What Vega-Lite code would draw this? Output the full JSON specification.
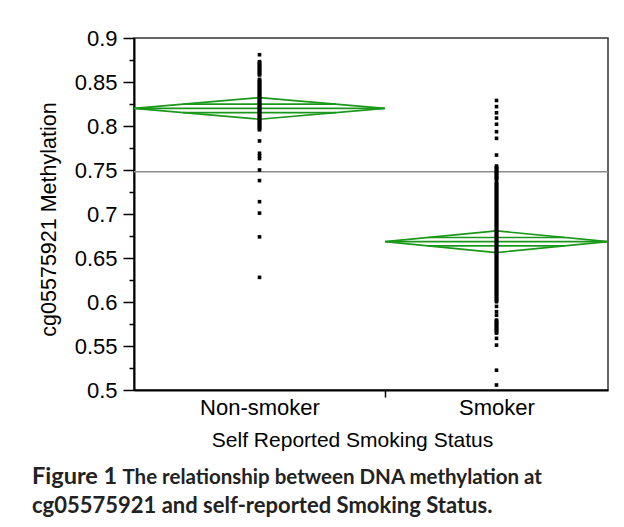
{
  "$schema": "https://vega.github.io/schema/vega-lite/v6.json",
  "width": 474,
  "height": 352,
  "autosize": {"type": "none"},
  "padding": {"left": 134, "top": 38, "right": 16, "bottom": 137},
  "background": "white",
  "title": {
    "text": "Figure 1",
    "subtitle": "cg05575921 and self-reported Smoking Status.",
    "orient": "bottom",
    "anchor": "start",
    "frame": "group",
    "dx": -102,
    "offset": -23,
    "font": "Lato",
    "fontSize": 23.5,
    "fontWeight": "bold",
    "color": "#222222",
    "subtitleFont": "Lato",
    "subtitleFontSize": 22,
    "subtitleFontWeight": "bold",
    "subtitleColor": "#222222",
    "subtitlePadding": 8
  },
  "datasets": {
    "groups": [
      {"g": "N", "name": "Non-smoker", "lo": 0, "hi": 0.5295, "mid": 0.2648, "mean": 0.82, "ci": 0.0123},
      {"g": "S", "name": "Smoker", "lo": 0.5295, "hi": 1, "mid": 0.7648, "mean": 0.6685, "ci": 0.0123}
    ],
    "diamond": [
      {"g": "N", "k": 1, "x": 0, "v": 0.82},
      {"g": "N", "k": 2, "x": 0.2648, "v": 0.8323},
      {"g": "N", "k": 3, "x": 0.5295, "v": 0.82},
      {"g": "N", "k": 4, "x": 0.2648, "v": 0.8077},
      {"g": "N", "k": 5, "x": 0, "v": 0.82},
      {"g": "S", "k": 1, "x": 0.5295, "v": 0.6685},
      {"g": "S", "k": 2, "x": 0.7648, "v": 0.6808},
      {"g": "S", "k": 3, "x": 1, "v": 0.6685},
      {"g": "S", "k": 4, "x": 0.7648, "v": 0.6562},
      {"g": "S", "k": 5, "x": 0.5295, "v": 0.6685}
    ],
    "hl": [
      {"g": "N", "x1": 0, "x2": 0.5295, "v": 0.82},
      {"g": "N", "x1": 0.1033, "x2": 0.4263, "v": 0.8248},
      {"g": "N", "x1": 0.1033, "x2": 0.4263, "v": 0.8152},
      {"g": "S", "x1": 0.5295, "x2": 1, "v": 0.6685},
      {"g": "S", "x1": 0.6213, "x2": 0.9083, "v": 0.6733},
      {"g": "S", "x1": 0.6213, "x2": 0.9083, "v": 0.6637}
    ],
    "pts": [
      {"g": "N", "v": 0.881}, {"g": "N", "v": 0.8731}, {"g": "N", "v": 0.8718}, {"g": "N", "v": 0.8702}, {"g": "N", "v": 0.8689}, {"g": "N", "v": 0.8676}, {"g": "N", "v": 0.866}, {"g": "N", "v": 0.8647}, {"g": "N", "v": 0.8631}, {"g": "N", "v": 0.8619}, {"g": "N", "v": 0.8603}, {"g": "N", "v": 0.859}, {"g": "N", "v": 0.858},
      {"g": "N", "v": 0.853}, {"g": "N", "v": 0.8517}, {"g": "N", "v": 0.8503}, {"g": "N", "v": 0.8491}, {"g": "N", "v": 0.8478}, {"g": "N", "v": 0.8464}, {"g": "N", "v": 0.8452}, {"g": "N", "v": 0.8438}, {"g": "N", "v": 0.8425}, {"g": "N", "v": 0.8412}, {"g": "N", "v": 0.8399}, {"g": "N", "v": 0.8386}, {"g": "N", "v": 0.8373}, {"g": "N", "v": 0.836}, {"g": "N", "v": 0.8347}, {"g": "N", "v": 0.8334}, {"g": "N", "v": 0.8321}, {"g": "N", "v": 0.8308}, {"g": "N", "v": 0.8295}, {"g": "N", "v": 0.8282}, {"g": "N", "v": 0.8269}, {"g": "N", "v": 0.8256}, {"g": "N", "v": 0.8243}, {"g": "N", "v": 0.823}, {"g": "N", "v": 0.8217}, {"g": "N", "v": 0.8204}, {"g": "N", "v": 0.8191}, {"g": "N", "v": 0.8178}, {"g": "N", "v": 0.8165}, {"g": "N", "v": 0.8152}, {"g": "N", "v": 0.8139}, {"g": "N", "v": 0.8126}, {"g": "N", "v": 0.8113}, {"g": "N", "v": 0.81}, {"g": "N", "v": 0.8087}, {"g": "N", "v": 0.8074}, {"g": "N", "v": 0.8061}, {"g": "N", "v": 0.8048}, {"g": "N", "v": 0.8035}, {"g": "N", "v": 0.8022}, {"g": "N", "v": 0.8009}, {"g": "N", "v": 0.7996}, {"g": "N", "v": 0.7983}, {"g": "N", "v": 0.797}, {"g": "N", "v": 0.7957},
      {"g": "N", "v": 0.783}, {"g": "N", "v": 0.769}, {"g": "N", "v": 0.766}, {"g": "N", "v": 0.763}, {"g": "N", "v": 0.75}, {"g": "N", "v": 0.738}, {"g": "N", "v": 0.714}, {"g": "N", "v": 0.701}, {"g": "N", "v": 0.674}, {"g": "N", "v": 0.628},
      {"g": "S", "v": 0.829}, {"g": "S", "v": 0.822}, {"g": "S", "v": 0.815}, {"g": "S", "v": 0.809}, {"g": "S", "v": 0.802}, {"g": "S", "v": 0.7935}, {"g": "S", "v": 0.786}, {"g": "S", "v": 0.767},
      {"g": "S", "v": 0.7545}, {"g": "S", "v": 0.7532}, {"g": "S", "v": 0.7519}, {"g": "S", "v": 0.7506}, {"g": "S", "v": 0.7493}, {"g": "S", "v": 0.748}, {"g": "S", "v": 0.7467}, {"g": "S", "v": 0.7454}, {"g": "S", "v": 0.7441}, {"g": "S", "v": 0.7428}, {"g": "S", "v": 0.7415}, {"g": "S", "v": 0.7402}, {"g": "S", "v": 0.739},
      {"g": "S", "v": 0.736}, {"g": "S", "v": 0.7347}, {"g": "S", "v": 0.7332}, {"g": "S", "v": 0.7319}, {"g": "S", "v": 0.7304}, {"g": "S", "v": 0.7291}, {"g": "S", "v": 0.7276}, {"g": "S", "v": 0.7263}, {"g": "S", "v": 0.7248}, {"g": "S", "v": 0.7235}, {"g": "S", "v": 0.722}, {"g": "S", "v": 0.7207}, {"g": "S", "v": 0.7192}, {"g": "S", "v": 0.7179}, {"g": "S", "v": 0.7164}, {"g": "S", "v": 0.7151}, {"g": "S", "v": 0.7136}, {"g": "S", "v": 0.7123}, {"g": "S", "v": 0.7108}, {"g": "S", "v": 0.7095}, {"g": "S", "v": 0.708}, {"g": "S", "v": 0.7067}, {"g": "S", "v": 0.7052}, {"g": "S", "v": 0.7039}, {"g": "S", "v": 0.7024}, {"g": "S", "v": 0.7011}, {"g": "S", "v": 0.6996}, {"g": "S", "v": 0.6983}, {"g": "S", "v": 0.6968}, {"g": "S", "v": 0.6955}, {"g": "S", "v": 0.694}, {"g": "S", "v": 0.6927}, {"g": "S", "v": 0.6912}, {"g": "S", "v": 0.6899}, {"g": "S", "v": 0.6884}, {"g": "S", "v": 0.6871}, {"g": "S", "v": 0.6856}, {"g": "S", "v": 0.6843}, {"g": "S", "v": 0.6828}, {"g": "S", "v": 0.6815}, {"g": "S", "v": 0.68}, {"g": "S", "v": 0.6787}, {"g": "S", "v": 0.6772}, {"g": "S", "v": 0.6759}, {"g": "S", "v": 0.6744}, {"g": "S", "v": 0.6731}, {"g": "S", "v": 0.6716}, {"g": "S", "v": 0.6703}, {"g": "S", "v": 0.6688}, {"g": "S", "v": 0.6675}, {"g": "S", "v": 0.666}, {"g": "S", "v": 0.6647}, {"g": "S", "v": 0.6632}, {"g": "S", "v": 0.6619}, {"g": "S", "v": 0.6604}, {"g": "S", "v": 0.6591}, {"g": "S", "v": 0.6576}, {"g": "S", "v": 0.6563}, {"g": "S", "v": 0.6548}, {"g": "S", "v": 0.6535}, {"g": "S", "v": 0.652}, {"g": "S", "v": 0.6507}, {"g": "S", "v": 0.6492}, {"g": "S", "v": 0.6479}, {"g": "S", "v": 0.6464}, {"g": "S", "v": 0.6451}, {"g": "S", "v": 0.6436}, {"g": "S", "v": 0.6423}, {"g": "S", "v": 0.6408}, {"g": "S", "v": 0.6395}, {"g": "S", "v": 0.638}, {"g": "S", "v": 0.6367}, {"g": "S", "v": 0.6352}, {"g": "S", "v": 0.6339}, {"g": "S", "v": 0.6324}, {"g": "S", "v": 0.6311}, {"g": "S", "v": 0.6296}, {"g": "S", "v": 0.6283}, {"g": "S", "v": 0.6268}, {"g": "S", "v": 0.6255}, {"g": "S", "v": 0.624}, {"g": "S", "v": 0.6227}, {"g": "S", "v": 0.6212}, {"g": "S", "v": 0.6199}, {"g": "S", "v": 0.6184}, {"g": "S", "v": 0.6171}, {"g": "S", "v": 0.6156}, {"g": "S", "v": 0.6143}, {"g": "S", "v": 0.6128}, {"g": "S", "v": 0.6115}, {"g": "S", "v": 0.61}, {"g": "S", "v": 0.6087}, {"g": "S", "v": 0.6072}, {"g": "S", "v": 0.6059}, {"g": "S", "v": 0.6044}, {"g": "S", "v": 0.6031}, {"g": "S", "v": 0.6016}, {"g": "S", "v": 0.6003},
      {"g": "S", "v": 0.595}, {"g": "S", "v": 0.589}, {"g": "S", "v": 0.585}, {"g": "S", "v": 0.5795}, {"g": "S", "v": 0.5782}, {"g": "S", "v": 0.5768}, {"g": "S", "v": 0.5755}, {"g": "S", "v": 0.5741}, {"g": "S", "v": 0.5728}, {"g": "S", "v": 0.5714}, {"g": "S", "v": 0.5701}, {"g": "S", "v": 0.5687}, {"g": "S", "v": 0.5674}, {"g": "S", "v": 0.566}, {"g": "S", "v": 0.5647}, {"g": "S", "v": 0.5587}, {"g": "S", "v": 0.551}, {"g": "S", "v": 0.5225}, {"g": "S", "v": 0.5057}
    ]
  },
  "encoding": {
    "y": {
      "field": "v",
      "type": "quantitative",
      "title": "cg05575921 Methylation",
      "scale": {"domain": [0.5, 0.9], "nice": false, "zero": false},
      "axis": {
        "values": [0.5, 0.525, 0.55, 0.575, 0.6, 0.625, 0.65, 0.675, 0.7, 0.725, 0.75, 0.775, 0.8, 0.825, 0.85, 0.875, 0.9],
        "labelExpr": "abs(datum.value*20 - round(datum.value*20)) < 0.001 ? format(datum.value, '.2~f') : ''",
        "tickSize": {"condition": {"test": "abs(datum.value*20 - round(datum.value*20)) < 0.001", "value": 11}, "value": 5},
        "labelPadding": 6,
        "grid": false,
        "labelFont": "Liberation Sans",
        "labelFontSize": 22,
        "labelColor": "black",
        "titleFont": "Liberation Sans",
        "titleFontSize": 21.5,
        "titleFontWeight": "normal",
        "titleColor": "black",
        "titleAngle": -90,
        "titleX": -85,
        "titleY": 181,
        "titleAlign": "center",
        "titleBaseline": "middle",
        "domainColor": "black",
        "domainWidth": 2,
        "tickColor": "black",
        "tickWidth": 1.5
      }
    }
  },
  "layer": [
    {
      "data": {"values": [{"v": 0.748}]},
      "mark": {"type": "rule", "color": "#8a8a8a", "strokeWidth": 1.5},
      "encoding": {}
    },
    {
      "data": {"name": "diamond"},
      "mark": {"type": "line", "color": "#1a981a", "strokeWidth": 1.7},
      "encoding": {
        "x": {"field": "x", "type": "quantitative", "scale": {"domain": [0, 1], "nice": false, "zero": false}, "axis": null},
        "detail": {"field": "g"},
        "order": {"field": "k"}
      }
    },
    {
      "data": {"name": "hl"},
      "mark": {"type": "rule", "color": "#1a981a", "strokeWidth": 1.7},
      "encoding": {
        "x": {
          "field": "x1", "type": "quantitative",
          "scale": {"domain": [0, 1], "nice": false, "zero": false},
          "axis": {
            "orient": "bottom",
            "domain": false, "ticks": false, "labels": false, "grid": false,
            "title": "The relationship between DNA methylation at",
            "titleFont": "Lato",
            "titleFontSize": 20.5,
            "titleFontWeight": "bold",
            "titleColor": "#222222",
            "titleAlign": "left",
            "titleAnchor": "start",
            "titleX": -12,
            "titleY": 87,
            "titleBaseline": "middle"
          }
        },
        "x2": {"field": "x2"}
      }
    },
    {
      "data": {"name": "pts"},
      "transform": [
        {"lookup": "g", "from": {"data": {"name": "groups"}, "key": "g", "fields": ["mid"]}}
      ],
      "mark": {"type": "square", "color": "black", "size": 13, "opacity": 1},
      "encoding": {
        "x": {
          "field": "mid", "type": "quantitative",
          "scale": {"domain": [0, 1], "nice": false, "zero": false},
          "axis": {
            "orient": "bottom",
            "values": [0.2648, 0.5295, 0.7648],
            "labelExpr": "datum.value < 0.4 ? 'Non-smoker' : (datum.value > 0.6 ? 'Smoker' : '')",
            "tickOpacity": {"condition": {"test": "datum.value > 0.4 && datum.value < 0.6", "value": 1}, "value": 0},
            "tickSize": 7,
            "tickColor": "black",
            "tickWidth": 1.5,
            "labelPadding": 0,
            "labelFont": "Liberation Sans",
            "labelFontSize": 22,
            "labelColor": "black",
            "domainColor": "black",
            "domainWidth": 2,
            "grid": false,
            "title": "Self Reported Smoking Status",
            "titleFont": "Liberation Sans",
            "titleFontSize": 21,
            "titleFontWeight": "normal",
            "titleColor": "black",
            "titleX": 218,
            "titleY": 50,
            "titleAlign": "center",
            "titleBaseline": "middle"
          }
        }
      }
    }
  ],
  "resolve": {"axis": {"x": "independent"}},
  "config": {
    "view": {"stroke": "#333333", "strokeWidth": 1.5}
  }
}
